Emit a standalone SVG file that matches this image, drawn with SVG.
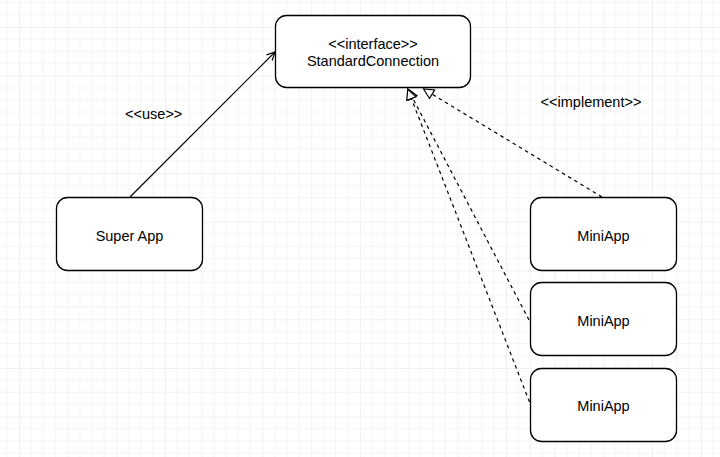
<svg xmlns="http://www.w3.org/2000/svg" width="720" height="457" viewBox="0 0 720 457">
  <style>
    .node rect { fill: #ffffff; stroke: #000000; stroke-width: 1.3; }
    .label { font-family: "Liberation Sans", Arial, sans-serif; font-size: 14.5px; fill: #000000; text-anchor: middle; }
    .edge { fill: none; stroke: #000000; stroke-width: 1.2; }
    .dashed { stroke-dasharray: 3.6 3.6; }
  </style>
  <defs>
    <pattern id="grid" patternUnits="userSpaceOnUse" x="19" y="27" width="48.7" height="48.7">
      <g stroke="#f4f4f4" stroke-width="1">
        <line x1="12.175" y1="0" x2="12.175" y2="48.7"/>
        <line x1="24.35" y1="0" x2="24.35" y2="48.7"/>
        <line x1="36.525" y1="0" x2="36.525" y2="48.7"/>
        <line x1="0" y1="12.175" x2="48.7" y2="12.175"/>
        <line x1="0" y1="24.35" x2="48.7" y2="24.35"/>
        <line x1="0" y1="36.525" x2="48.7" y2="36.525"/>
      </g>
      <g stroke="#e4e4e4" stroke-width="1">
        <line x1="0" y1="0" x2="0" y2="48.7"/>
        <line x1="0" y1="0" x2="48.7" y2="0"/>
      </g>
    </pattern>
    <marker id="open" markerUnits="userSpaceOnUse" markerWidth="12" markerHeight="12" viewBox="-10 -6 12 12" refX="0" refY="0" orient="auto">
      <path d="M-8,-4 L0,0 L-8,4" fill="none" stroke="#000000" stroke-width="1.2"/>
    </marker>
    <marker id="tri" markerUnits="userSpaceOnUse" markerWidth="14" markerHeight="14" viewBox="-1 -7 14 14" refX="0" refY="0" orient="auto">
      <path d="M0,-5 L10,0 L0,5 Z" fill="#ffffff" stroke="#000000" stroke-width="1.2"/>
    </marker>
  </defs>

  <rect x="0" y="0" width="720" height="457" fill="#ffffff"/>
  <rect x="0" y="0" width="720" height="457" fill="url(#grid)"/>

  <g id="connectors">
    <path class="edge" d="M130,197 L275,52" marker-end="url(#open)"/>
    <path class="edge dashed" d="M602,197 L432.1,94.2" marker-end="url(#tri)"/>
    <path class="edge dashed" d="M529,320 L412.6,97.9" marker-end="url(#tri)"/>
    <path class="edge dashed" d="M529.5,402 L411.4,98.6" marker-end="url(#tri)"/>
    <text class="label" x="153.7" y="118.5">&lt;&lt;use&gt;&gt;</text>
    <text class="label" x="591" y="106.5">&lt;&lt;implement&gt;&gt;</text>
  </g>

  <g id="standard-connection" class="node">
    <rect x="275.5" y="15.5" width="195" height="72" rx="11" ry="11"/>
    <text class="label" x="373" y="48.5">&lt;&lt;interface&gt;&gt;</text>
    <text class="label" x="373" y="66">StandardConnection</text>
  </g>

  <g id="super-app" class="node">
    <rect x="56.5" y="197.5" width="146" height="73" rx="11" ry="11"/>
    <text class="label" x="129.5" y="240.5">Super App</text>
  </g>

  <g id="miniapp-1" class="node">
    <rect x="530.5" y="197.5" width="146" height="73" rx="11" ry="11"/>
    <text class="label" x="603.5" y="240.5">MiniApp</text>
  </g>

  <g id="miniapp-2" class="node">
    <rect x="530.5" y="282.5" width="146" height="73" rx="11" ry="11"/>
    <text class="label" x="603.5" y="326">MiniApp</text>
  </g>

  <g id="miniapp-3" class="node">
    <rect x="530.5" y="368.5" width="146" height="73" rx="11" ry="11"/>
    <text class="label" x="603.5" y="411">MiniApp</text>
  </g>
</svg>
